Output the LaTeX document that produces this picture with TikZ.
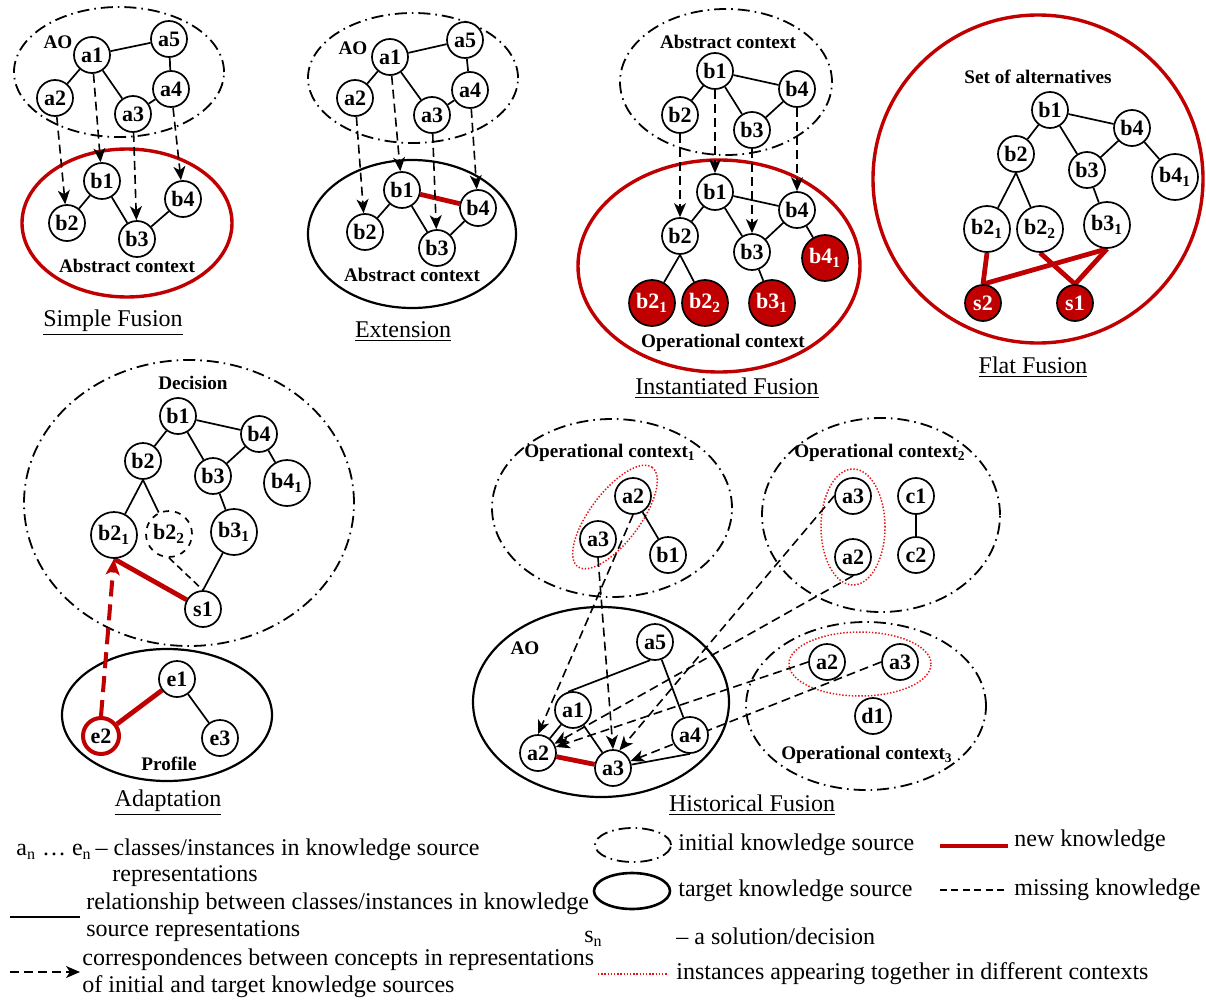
\documentclass[tikz,border=0pt]{standalone}
\usepackage{fontspec}
\setmainfont{Liberation Serif}
\usetikzlibrary{arrows.meta}
\definecolor{kred}{RGB}{192,0,0}
\definecolor{dotred}{RGB}{230,20,20}
\pgfdeclarelayer{bg}
\pgfsetlayers{bg,main}
\begin{document}
\begin{tikzpicture}[x=0.5pt,y=-0.5pt,
  nd/.style={circle,draw,fill=white,line width=0.85pt,minimum size=18pt,inner sep=0pt,font=\bfseries\fontsize{11}{12}\selectfont},
  ndl/.style={nd,minimum size=23pt},
  rfill/.style={fill=kred,text=white},
  lbl/.style={font=\bfseries\fontsize{9.6}{11}\selectfont,inner sep=0pt},
  ttl/.style={font=\fontsize{12}{14}\selectfont,inner sep=0pt},
  lgd/.style={font=\fontsize{12}{14}\selectfont,inner sep=0pt,anchor=west},
  rel/.style={line width=0.85pt},
  corr/.style={line width=0.8pt,dash pattern=on 4.5pt off 2.5pt,-{Stealth[length=7pt,width=6pt,inset=2pt]}},
  newk/.style={line width=2.4pt,kred},
  miss/.style={line width=0.8pt,dash pattern=on 3.5pt off 2.2pt},
  initks/.style={line width=0.9pt,dash pattern=on 6pt off 2.5pt on 0.8pt off 2.5pt},
  targks/.style={line width=1.1pt},
  targred/.style={line width=1.7pt,kred},
  together/.style={line width=0.75pt,dotred,dash pattern=on 0.7pt off 0.9pt},
]
\useasboundingbox (0,0) rectangle (1206,1001);

% ---------------- Simple Fusion ----------------
\node[nd] (sa1) at (92,55) {a1};
\node[nd] (sa5) at (169,39) {a5};
\node[nd] (sa2) at (55,98) {a2};
\node[nd] (sa4) at (171,89) {a4};
\node[nd] (sa3) at (133,114) {a3};
\node[nd] (sb1) at (102,181) {b1};
\node[nd] (sb4) at (183,199) {b4};
\node[nd] (sb2) at (67,223) {b2};
\node[nd] (sb3) at (137,239) {b3};
\node[lbl] (sAO) at (58,42) {AO};
\node[lbl] (sAC) at (127,266) {Abstract context};
\node[ttl] (sT) at (113,323) {\underline{Simple Fusion}};

% ---------------- Extension ----------------
\node[nd] (xa1) at (390,57) {a1};
\node[nd] (xa5) at (465,40) {a5};
\node[nd] (xa2) at (355,98) {a2};
\node[nd] (xa4) at (470,90) {a4};
\node[nd] (xa3) at (432,115) {a3};
\node[nd] (xb1) at (402,190) {b1};
\node[nd] (xb4) at (478,208) {b4};
\node[nd] (xb2) at (365,232) {b2};
\node[nd] (xb3) at (437,248) {b3};
\node[lbl] (xAO) at (353,48) {AO};
\node[lbl] (xAC) at (412,275) {Abstract context};
\node[ttl] (xT) at (403,332) {\underline{Extension}};

% ---------------- Instantiated Fusion ----------------
\node[nd] (ib1) at (715,71) {b1};
\node[nd] (ib4) at (797,89) {b4};
\node[nd] (ib2) at (680,115) {b2};
\node[nd] (ib3) at (752,130) {b3};
\node[nd] (jb1) at (715,192) {b1};
\node[nd] (jb4) at (797,210) {b4};
\node[nd] (jb2) at (680,236) {b2};
\node[nd] (jb3) at (752,252) {b3};
\node[ndl,rfill] (jb41) at (825,258) {b4\textsubscript{1}};
\node[ndl,rfill] (jb21) at (652,303) {b2\textsubscript{1}};
\node[ndl,rfill] (jb22) at (705,303) {b2\textsubscript{2}};
\node[ndl,rfill] (jb31) at (772,303) {b3\textsubscript{1}};
\node[lbl] (iAC) at (728,42) {Abstract context};
\node[lbl] (iOC) at (723,343) {Operational context};
\node[ttl] (iT) at (727,388) {\underline{Instantiated Fusion}};

% ---------------- Flat Fusion ----------------
\node[nd] (fb1) at (1050,110) {b1};
\node[nd] (fb4) at (1132,128) {b4};
\node[nd] (fb2) at (1016,154) {b2};
\node[nd] (fb3) at (1087,170) {b3};
\node[ndl] (fb41) at (1175,177) {b4\textsubscript{1}};
\node[ndl] (fb21) at (987,229) {b2\textsubscript{1}};
\node[ndl] (fb22) at (1040,229) {b2\textsubscript{2}};
\node[ndl] (fb31) at (1107,225) {b3\textsubscript{1}};
\node[nd,rfill] (fs2) at (983,303) {s2};
\node[nd,rfill] (fs1) at (1075,303) {s1};
\node[lbl] (fSA) at (1038,77) {Set of alternatives};
\node[ttl] (fT) at (1033,367) {\underline{Flat Fusion}};

% ---------------- Adaptation ----------------
\node[nd] (db1) at (178,416) {b1};
\node[nd] (db4) at (259,434) {b4};
\node[nd] (db2) at (143,461) {b2};
\node[nd] (db3) at (213,476) {b3};
\node[ndl] (db41) at (287,483) {b4\textsubscript{1}};
\node[ndl] (db21) at (114,535) {b2\textsubscript{1}};
\node[ndl,dashed] (db22) at (169,534) {b2\textsubscript{2}};
\node[ndl] (db31) at (234,532) {b3\textsubscript{1}};
\node[nd] (ds1) at (203,609) {s1};
\node[nd] (de1) at (177,679) {e1};
\node[nd,draw=kred,line width=2pt] (de2) at (101,736) {e2};
\node[nd] (de3) at (220,738) {e3};
\node[lbl] (dDe) at (193,383) {Decision};
\node[lbl] (dPr) at (169,764) {Profile};
\node[ttl] (dT) at (168,803) {\underline{Adaptation}};

% ---------------- Historical Fusion ----------------
\node[nd] (h1a2) at (633,496) {a2};
\node[nd] (h1a3) at (598,539) {a3};
\node[nd] (h1b1) at (668,555) {b1};
\node[lbl] (h1L) at (610,453) {Operational context\textsubscript{1}};
\node[nd] (hAOa5) at (655,642) {a5};
\node[nd] (hAOa1) at (573,710) {a1};
\node[nd] (hAOa4) at (690,735) {a4};
\node[nd] (hAOa2) at (538,753) {a2};
\node[nd] (hAOa3) at (613,768) {a3};
\node[lbl] (hAO) at (525,648) {AO};
\node[nd] (h2a3) at (853,496) {a3};
\node[nd] (h2a2) at (853,557) {a2};
\node[nd] (h2c1) at (916,496) {c1};
\node[nd] (h2c2) at (916,555) {c2};
\node[lbl] (h2L) at (880,453) {Operational context\textsubscript{2}};
\node[nd] (h3a2) at (827,662) {a2};
\node[nd] (h3a3) at (900,662) {a3};
\node[nd] (h3d1) at (873,716) {d1};
\node[lbl] (h3L) at (867,755) {Operational context\textsubscript{3}};
\node[ttl] (hT) at (752,805) {\underline{Historical Fusion}};

% ---------------- Legend ----------------
\node[lgd] (L1) at (16,850) {a\textsubscript{n} … e\textsubscript{n}\,– classes/instances in knowledge source};
\node[lgd] (L2) at (112,876) {representations};
\node[lgd] (L3) at (86,904) {relationship between classes/instances in knowledge};
\node[lgd] (L4) at (86,931) {source representations};
\node[lgd] (L5) at (82,960) {correspondences between concepts in representations};
\node[lgd] (L6) at (82,987) {of initial and target knowledge sources};
\node[lgd] (R1) at (678,845) {initial knowledge source};
\node[lgd] (R2) at (678,891) {target knowledge source};
\node[lgd] (R3) at (584,939) {s\textsubscript{n}};
\node[lgd] (R4) at (676,936) {– a solution/decision};
\node[lgd] (R5) at (676,974) {instances appearing together in different contexts};
\node[lgd] (R6) at (1014,841) {new knowledge};
\node[lgd] (R7) at (1014,890) {missing knowledge};
\coordinate (lgRa) at (10,917);  \coordinate (lgRb) at (80,917);
\coordinate (lgCa) at (10,972);  \coordinate (lgCb) at (80,972);
\coordinate (lgTa) at (598,974); \coordinate (lgTb) at (668,974);
\coordinate (lgNa) at (940,846); \coordinate (lgNb) at (1008,846);
\coordinate (lgMa) at (940,890); \coordinate (lgMb) at (1008,890);

\begin{pgfonlayer}{bg}
% ellipses
\draw[initks] (119,72) ellipse [x radius=52.5pt,y radius=32.5pt];
\draw[targred] (127,223) ellipse [x radius=52.5pt,y radius=37pt];
\draw[initks] (413,78) ellipse [x radius=52.5pt,y radius=32.5pt];
\draw[targks] (412,234) ellipse [x radius=52pt,y radius=37pt];
\draw[initks] (726,82) ellipse [x radius=53pt,y radius=36.5pt];
\draw[targred] (719,266) ellipse [x radius=70.5pt,y radius=53pt];
\draw[targred] (1038,179) ellipse [x radius=82.5pt,y radius=82pt];
\draw[initks] (189,503) ellipse [x radius=82.5pt,y radius=71.5pt];
\draw[targks] (167,715) ellipse [x radius=52.5pt,y radius=33pt];
\draw[initks] (612,508) ellipse [x radius=60pt,y radius=44.5pt];
\draw[targks] (601,702) ellipse [x radius=64pt,y radius=47.5pt];
\draw[initks] (881,515) ellipse [x radius=59.5pt,y radius=48.5pt];
\draw[initks] (866,706) ellipse [x radius=60pt,y radius=42pt];
\draw[together,shift={(615,517)},rotate=53] (0,0) ellipse [x radius=31pt,y radius=12.5pt];
\draw[together] (853,527) ellipse [x radius=16pt,y radius=29pt];
\draw[together] (860,664) ellipse [x radius=35.5pt,y radius=16pt];

% Simple Fusion edges
\draw[rel] (sa1)--(sa2) (sa1)--(sa5) (sa1)--(sa3) (sa5)--(sa4) (sa4)--(sa3)
           (sb1)--(sb2) (sb1)--(sb3) (sb3)--(sb4);
\draw[corr] (sa2)--(sb2);
\draw[corr] (sa1)--(sb1);
\draw[corr] (sa3)--(sb3);
\draw[corr] (sa4)--(sb4);

% Extension edges
\draw[rel] (xa1)--(xa2) (xa1)--(xa5) (xa1)--(xa3) (xa5)--(xa4) (xa4)--(xa3)
           (xb1)--(xb2) (xb1)--(xb3) (xb3)--(xb4);
\draw[newk] (xb1)--(xb4);
\draw[corr] (xa2)--(xb2);
\draw[corr] (xa1)--(xb1);
\draw[corr] (xa3)--(xb3);
\draw[corr] (xa4)--(xb4);

% Instantiated edges
\draw[rel] (ib1)--(ib2) (ib1)--(ib3) (ib1)--(ib4) (ib4)--(ib3)
           (jb1)--(jb2) (jb1)--(jb3) (jb1)--(jb4) (jb4)--(jb3)
           (jb2.south)--(jb21) (jb2.south)--(jb22) (jb3)--(jb31) (jb4)--(jb41);
\draw[corr] (ib2)--(jb2);
\draw[corr] (ib1)--(jb1);
\draw[corr] (ib3)--(jb3);
\draw[corr] (ib4)--(jb4);

% Flat edges
\draw[rel] (fb1)--(fb2) (fb1)--(fb3) (fb1)--(fb4) (fb4)--(fb3) (fb4)--(fb41)
           (fb2.south)--(fb21) (fb2.south)--(fb22) (fb3)--(fb31);
\draw[newk] (fs2.north)--(fb21.south);
\draw[newk] (fs2.north)--(fb31.south);
\draw[newk] (fb22.south)--(fs1.north);
\draw[newk] (fb31.south)--(fs1.north);

% Adaptation edges
\draw[rel] (db1)--(db2) (db1)--(db3) (db1)--(db4) (db4)--(db3) (db4)--(db41)
           (db2.south)--(db21) (db2.south)--(db22) (db3)--(db31) (db31)--(ds1.north) (de1)--(de3);
\draw[miss] (db22.south)--(ds1.north);
\draw[newk] (ds1)--(db21.south);
\draw[newk] (de1)--(de2);
\draw[kred,line width=2pt,dash pattern=on 8pt off 4pt,-{Stealth[length=8pt,width=7pt,inset=2pt]}] (de2.north)--(db21.south);

% Historical edges
\draw[rel] (h1a2)--(h1b1) (h2c1)--(h2c2)
           (hAOa5.255)--(hAOa1.105) (hAOa5)--(hAOa4) (hAOa1)--(hAOa2) (hAOa1)--(hAOa3) (hAOa4.south)--(hAOa3);
\draw[newk] (hAOa2)--(hAOa3);
\draw[corr] (h1a2.south)--(hAOa2.north);
\draw[corr] (h1a3.south)--(hAOa3.north);
\draw[corr] (h2a3.west)--(hAOa3.70);
\draw[corr] (h2a2.south)--(hAOa2);
\draw[corr] (h3a2.west)--(hAOa2);
\draw[corr] (h3a3.west)--(hAOa3);

% Legend samples
\draw[initks] (633,845) ellipse [x radius=19pt,y radius=8.5pt];
\draw[targks,line width=1.3pt] (632,891) ellipse [x radius=19pt,y radius=9pt];
\draw[rel] (lgRa)--(lgRb);
\draw[corr] (lgCa)--(lgCb);
\draw[together] (lgTa)--(lgTb);
\draw[newk] (lgNa)--(lgNb);
\draw[miss] (lgMa)--(lgMb);
\end{pgfonlayer}
\end{tikzpicture}
\end{document}
